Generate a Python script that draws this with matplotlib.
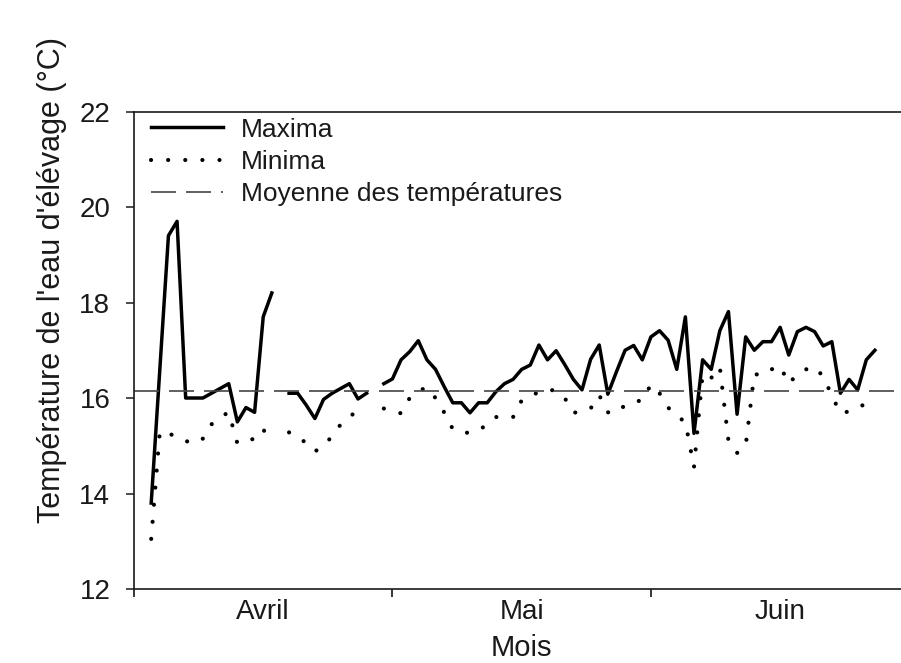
import numpy as np
import matplotlib
matplotlib.use("Agg")
import matplotlib.pyplot as plt

nan = np.nan

# jours depuis le 1er avril (0 = 1er avril)
days = list(range(2, 87))

# temperatures maximales journalieres (degres C)
maxima = [13.8, 16.6, 19.4, 19.7, 16.0, 16.0, 16.0, 16.1, 16.2, 16.3,
          15.5, 15.8, 15.7, 17.7, 18.2, nan, 16.1, 16.1, 15.85, 15.57,
          15.97, 16.1, 16.2, 16.3, 15.98, 16.1, nan, 16.3, 16.4, 16.8,
          16.97, 17.2, 16.8, 16.6, 16.24, 15.9, 15.9, 15.69, 15.9, 15.9,
          16.13, 16.3, 16.39, 16.6, 16.69, 17.11, 16.8, 16.99, 16.7, 16.39,
          16.17, 16.81, 17.11, 16.08, 16.55, 17.0, 17.1, 16.8, 17.28, 17.41,
          17.21, 16.6, 17.7, 15.26, 16.8, 16.6, 17.41, 17.81, 15.66, 17.28,
          17.0, 17.18, 17.18, 17.48, 16.9, 17.39, 17.48, 17.39, 17.09, 17.18,
          16.1, 16.39, 16.17, 16.8, 17.0]

# temperatures minimales journalieres (degres C)
minima = [13.05, 15.3, 15.25, 15.2, 15.1, 15.05, 15.15, 15.45, 15.6, 15.7,
          15.05, 15.1, 15.15, 15.35, 15.0, nan, 15.28, 15.2, 15.05, 14.88,
          15.0, 15.2, 15.45, 15.6, 15.75, 15.8, nan, 15.78, 15.72, 15.68,
          16.0, 16.15, 16.22, 16.0, 15.7, 15.35, 15.28, 15.27, 15.32, 15.45,
          15.6, 15.62, 15.6, 15.95, 16.05, 16.12, 16.18, 16.15, 16.0, 15.69,
          15.72, 15.78, 16.06, 15.7, 15.69, 15.85, 15.92, 15.95, 16.28, 16.1,
          15.8, 15.62, 15.5, 14.55, 16.5, 16.42, 16.65, 15.1, 14.85, 15.0,
          16.5, 16.48, 16.6, 16.67, 16.3, 16.5, 16.6, 16.65, 16.45, 16.05,
          15.68, 15.72, 15.78, 15.9, 16.0]

moyenne = 16.15

mois = ["Avril", "Mai", "Juin"]
limites_mois = [0, 30, 60, 90]
centres_mois = [15, 45, 75]
yticks = [12, 14, 16, 18, 20, 22]

plt.rcParams['font.family'] = ['Liberation Sans', 'DejaVu Sans']

fig = plt.figure(figsize=(9.01, 6.63), dpi=100)
ax = fig.add_axes([0.1487, 0.1116, 0.8606, 0.7202])

# courbes
ax.plot(days, maxima, color='black', lw=2.5, label='Maxima')
ax.plot(days, minima, color='black', lw=3.0, linestyle=(0, (0.01, 4.1)),
        dash_capstyle='round', label='Minima')
ax.axhline(moyenne, color='#444444', lw=1.2, dashes=(15, 6),
           label='Moyenne des températures')

# axes
ax.set_xlim(0, 90)
ax.set_ylim(12, 22)
ax.set_yticks(yticks)
ax.set_xticks(limites_mois)
ax.set_xticklabels([])
ax.set_xticks(centres_mois, minor=True)
ax.set_xticklabels(mois, minor=True)

ax.tick_params(axis='y', direction='out', length=6, width=1.1, pad=11,
               labelsize=20, colors='#1a1a1a')
ax.tick_params(axis='x', which='major', direction='out', length=6, width=1.1)
ax.tick_params(axis='x', which='minor', length=0, pad=7, labelsize=20,
               labelcolor='#1a1a1a')

for s in ['left', 'bottom', 'top']:
    ax.spines[s].set_linewidth(1.2)
    ax.spines[s].set_color('#1a1a1a')
ax.spines['right'].set_visible(False)

ax.set_xlabel("Mois", fontsize=21, color='#1a1a1a', labelpad=7)
ax.set_ylabel("Température de l'eau d'élévage (°C)", fontsize=22,
              color='#1a1a1a')
ax.yaxis.set_label_coords(-0.086, 0.647)

leg = ax.legend(loc='upper left', bbox_to_anchor=(0.02, 0.99), frameon=False,
                fontsize=19, handlelength=2.73, handletextpad=0.68,
                labelspacing=0.32, borderpad=0.05, borderaxespad=0)
for t in leg.get_texts():
    t.set_color('#1a1a1a')

fig.savefig("out.png", dpi=100, facecolor='white')
